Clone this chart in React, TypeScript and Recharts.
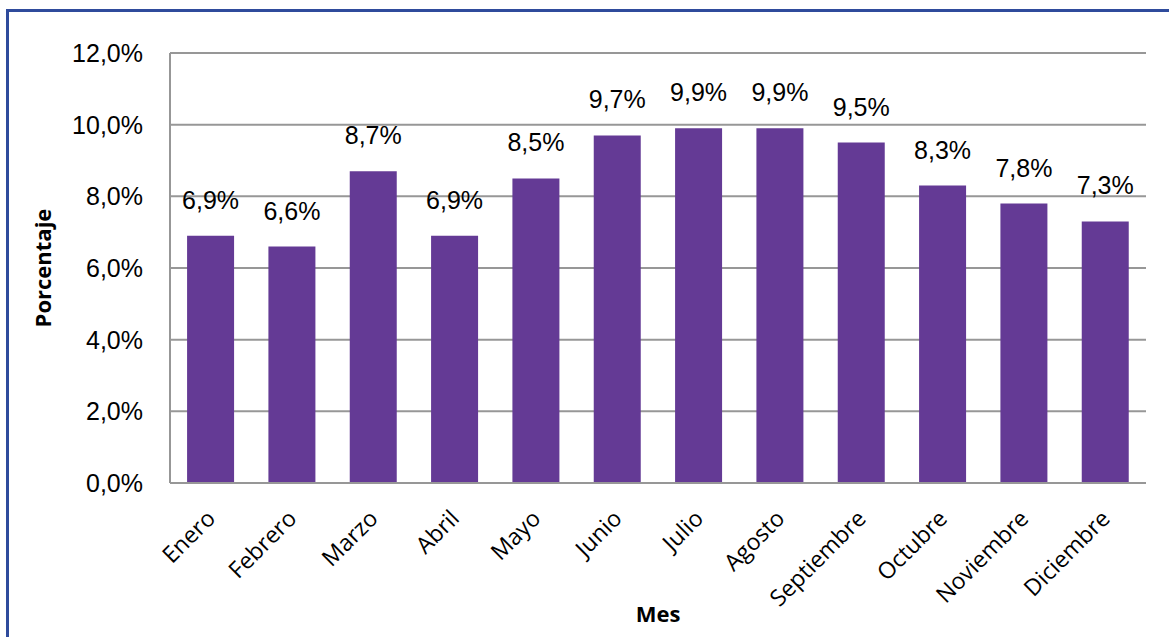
import React from 'react';
import { BarChart, Bar, XAxis, YAxis, CartesianGrid, LabelList } from 'recharts';

const months = ['Enero', 'Febrero', 'Marzo', 'Abril', 'Mayo', 'Junio', 'Julio', 'Agosto', 'Septiembre', 'Octubre', 'Noviembre', 'Diciembre'];
const percentages = [6.9, 6.6, 8.7, 6.9, 8.5, 9.7, 9.9, 9.9, 9.5, 8.3, 7.8, 7.3];
const yTicks = [0, 2, 4, 6, 8, 10, 12];

const data = months.map((mes, i) => ({ mes, valor: percentages[i] }));

const fmt = (v: number) => v.toFixed(1).replace('.', ',') + '%';

const MonthTick = (props: any) => {
  const { x, y, payload } = props;
  return (
    <g transform={`translate(${x + 6},${y + 29})`}>
      <text
        x={0}
        y={0}
        textAnchor="end"
        transform="rotate(-45)"
        fontFamily="'Open Sans', sans-serif"
        fontSize={23}
        fill="#000"
      >
        {payload.value}
      </text>
    </g>
  );
};

const App: React.FC = () => {
  return (
    <div style={{ position: 'absolute', left: 0, top: 0, width: 1169, height: 637, background: '#fff' }}>
      <div
        style={{
          position: 'absolute',
          left: 6,
          top: 9,
          width: 1200,
          height: 700,
          borderLeft: '3px solid #2F4B9C',
          borderTop: '3px solid #2F4B9C',
        }}
      />
      <BarChart
        width={1169}
        height={637}
        data={data}
        margin={{ top: 53, right: 23, left: 0, bottom: 0 }}
        barCategoryGap="21%"
      >
        <CartesianGrid vertical={false} stroke="#979797" strokeWidth={2} />
        <XAxis
          dataKey="mes"
          height={154}
          interval={0}
          tickLine={false}
          axisLine={{ stroke: '#979797', strokeWidth: 2 }}
          tick={<MonthTick />}
          label={{
            value: 'Mes',
            position: 'insideBottom',
            offset: 15,
            style: { fontFamily: "'Open Sans', sans-serif", fontWeight: 700, fontSize: 22, fill: '#000' },
          }}
        />
        <YAxis
          width={170}
          domain={[0, 12]}
          ticks={yTicks}
          tickFormatter={fmt}
          tickLine={false}
          tickMargin={21}
          axisLine={{ stroke: '#979797', strokeWidth: 2 }}
          tick={{ fontFamily: "'Liberation Sans', Arial, sans-serif", fontSize: 25, fill: '#000' }}
          label={{
            value: 'Porcentaje',
            angle: -90,
            position: 'insideLeft',
            offset: 43,
            style: { textAnchor: 'middle', fontFamily: "'Open Sans', sans-serif", fontWeight: 700, fontSize: 22, fill: '#000' },
          }}
        />
        <Bar dataKey="valor" fill="#643A95" isAnimationActive={false}>
          <LabelList
            dataKey="valor"
            position="top"
            offset={27}
            formatter={(v: any) => fmt(Number(v))}
            style={{ fontFamily: "'Liberation Sans', Arial, sans-serif", fontSize: 25, fill: '#000' }}
          />
        </Bar>
      </BarChart>
    </div>
  );
};

export default App;
